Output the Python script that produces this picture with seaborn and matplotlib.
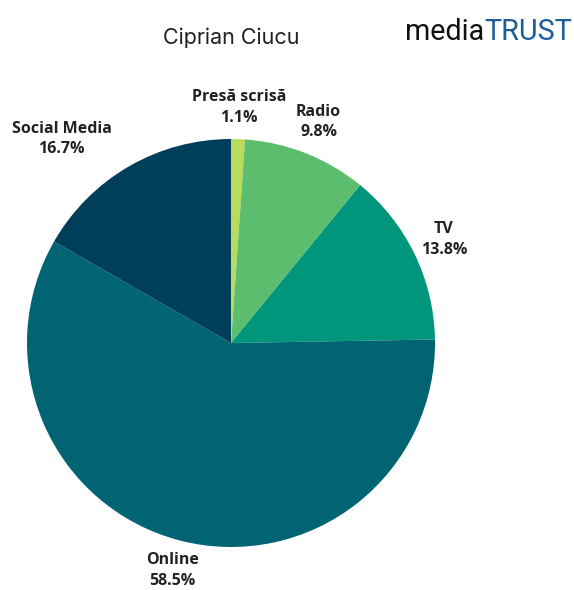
import numpy as np
import matplotlib
matplotlib.use("Agg")
import matplotlib.pyplot as plt
import seaborn as sns

sns.set_theme(style="white")
plt.rcParams['font.family'] = ['Open Sans', 'DejaVu Sans']

# Datos
categorias = ['Presă scrisă', 'Radio', 'TV', 'Online', 'Social Media']
valores = [1.1, 9.8, 13.8, 58.5, 16.7]
colores = ['#b9dc5c', '#5cbd6f', '#00967b', '#006472', '#003f5a']
distancias = [1.155, 1.165, 1.16, 1.15, 1.30]

fig = plt.figure(figsize=(5.74, 5.90), dpi=100)
ax = fig.add_axes([27 / 574, 43 / 590, 408 / 574, 408 / 590])

wedges, _ = ax.pie(valores, colors=colores, startangle=90, counterclock=False,
                   wedgeprops={'linewidth': 0})

for w, cat, val, d in zip(wedges, categorias, valores, distancias):
    ang = np.deg2rad((w.theta1 + w.theta2) / 2)
    if cat == 'Social Media':
        ang = np.deg2rad(129.7)
    ax.text(d * np.cos(ang), d * np.sin(ang), f"{cat}\n{val:.1f}%",
            ha='center', va='center', fontsize=11.5, fontweight='bold',
            color='#222222', linespacing=1.4)

ax.set_xlim(-1, 1)
ax.set_ylim(-1, 1)
ax.set_aspect('equal')
ax.axis('off')

fig.text(231 / 574, 1 - 38 / 590, 'Ciprian Ciucu', ha='center', va='center',
         fontsize=15.5, color='#222222', family=['Inter', 'DejaVu Sans'])

# Logo (ajustado al ancho disponible)
tam = 24
logo_kw = dict(va='center', family=['Roboto', 'DejaVu Sans'])
t1 = fig.text(405 / 574, 1 - 32 / 590, 'media', ha='left', color='#111111', fontsize=tam, **logo_kw)
t2 = fig.text(0, 1 - 32 / 590, 'TRUST', ha='left', color='#1d5e99', fontsize=tam, **logo_kw)
fig.canvas.draw()
r = fig.canvas.get_renderer()
ancho = t1.get_window_extent(r).width + t2.get_window_extent(r).width
tam = tam * 167 / ancho
t1.set_fontsize(tam)
t2.set_fontsize(tam)
fig.canvas.draw()
bb = t1.get_window_extent(r)
t2.set_x(bb.x1 / 574)

fig.savefig('out.png', dpi=100, facecolor='white')
